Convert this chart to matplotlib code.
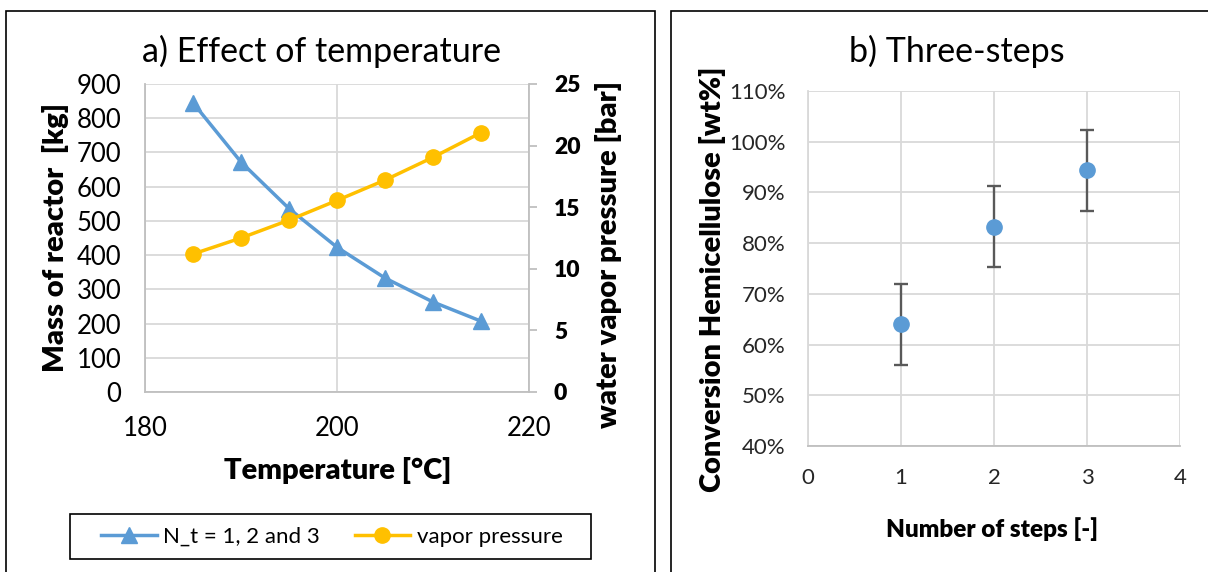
import matplotlib.pyplot as plt
from matplotlib.patches import Rectangle
from matplotlib.ticker import PercentFormatter

# panel a data
temp = [185, 190, 195, 200, 205, 210, 215]
mass = [845, 672, 536, 423, 333, 263, 207]
vapor = [11.2, 12.5, 13.95, 15.55, 17.2, 19.05, 21.05]

# panel b data
steps = [1, 2, 3]
conversion = [64.0, 83.2, 94.4]
conv_err = [8.0, 8.0, 8.0]

blue = '#5B9BD5'
orange = '#FFC000'
grid_c = '#D9D9D9'
axis_c = '#BFBFBF'

plt.rcParams['font.family'] = ['Lato', 'DejaVu Sans']

W, H = 1208, 572
fig = plt.figure(figsize=(W / 100, H / 100), dpi=100)


def fx(px):
    return px / W


def fy(py):
    return 1 - py / H


# panel frames
fig.patches.append(Rectangle((fx(6), -0.1), fx(655 - 6), 1.1 - 11 / H,
                             transform=fig.transFigure, fill=False, ec='black', lw=1.2))
fig.patches.append(Rectangle((fx(671), -0.1), 0.5, 1.1 - 11 / H,
                             transform=fig.transFigure, fill=False, ec='black', lw=1.2))
# legend frame (Excel pads the legend box a lot)
fig.patches.append(Rectangle((fx(70), fy(559)), fx(591 - 70), (559 - 514) / H,
                             transform=fig.transFigure, fill=False, ec='black', lw=1.2))

# ---- a) Effect of temperature
ax = fig.add_axes([fx(145), fy(392), fx(529 - 145), (392 - 84) / H])
ax2 = ax.twinx()

ax.plot(temp, mass, color=blue, marker='^', ms=11.5, lw=2.5, label='N_t = 1, 2 and 3', zorder=3)
ax2.plot(temp, vapor, color=orange, marker='o', ms=11, lw=2.5, label='vapor pressure', zorder=3)

ax.set_xlim(180, 220)
ax.set_ylim(0, 900)
ax2.set_ylim(0, 25)
ax.set_xticks([180, 200, 220])
ax.set_yticks(range(0, 901, 100))
ax2.set_yticks(range(0, 26, 5))
ax.grid(True, color=grid_c, lw=1.3)
ax.set_axisbelow(True)
for a in (ax, ax2):
    for s in a.spines.values():
        s.set_visible(False)
for side in ('left', 'bottom'):
    ax.spines[side].set_visible(True)
    ax.spines[side].set_color(axis_c)
    ax.spines[side].set_linewidth(1.3)
ax2.spines['right'].set_visible(True)
ax2.spines['right'].set_color(axis_c)
ax2.spines['right'].set_linewidth(1.3)

ax.tick_params(axis='both', length=0, labelsize=18.5, colors='black')
ax.tick_params(axis='y', pad=17)
ax.tick_params(axis='x', pad=17)
ax2.tick_params(axis='y', length=6, color=axis_c, width=1.3, labelsize=16.5, pad=12)
for lbl in ax2.get_yticklabels():
    lbl.set_fontweight('heavy')

fig.text(fx(321), fy(51), 'a) Effect of temperature', fontsize=24.5, ha='center', va='center')
fig.text(fx(338), fy(470), 'Temperature [°C]', fontsize=21, fontweight='heavy',
         ha='center', va='center')
fig.text(fx(56), fy(238), 'Mass of reactor  [kg]', fontsize=21, fontweight='heavy',
         ha='center', va='center', rotation=90)
fig.text(fx(609), fy(254), 'water vapor pressure [bar]', fontsize=21, fontweight='heavy',
         ha='center', va='center', rotation=90)

h1, l1 = ax.get_legend_handles_labels()
h2, l2 = ax2.get_legend_handles_labels()
leg = fig.legend(h1 + h2, l1 + l2, loc='center', ncol=2,
                 bbox_to_anchor=(fx(332), fy(537)), fontsize=16,
                 frameon=False, handlelength=2.5, handletextpad=0.3,
                 columnspacing=1.55, borderpad=0, borderaxespad=0)

# ---- b) Three-steps
bx = fig.add_axes([fx(808), fy(446), fx(1180 - 808), (446 - 91) / H])
bx.errorbar(steps, conversion, yerr=conv_err, fmt='o', color=blue, ms=11,
            ecolor='#595959', elinewidth=1.7, capsize=5, capthick=1.7, zorder=3)
bx.set_xlim(0, 4)
bx.set_ylim(40, 110)
bx.set_xticks(range(0, 5))
bx.set_yticks(range(40, 111, 10))
bx.yaxis.set_major_formatter(PercentFormatter(decimals=0))
bx.grid(True, color=grid_c, lw=1.3)
bx.set_axisbelow(True)
for s in bx.spines.values():
    s.set_visible(False)
bx.spines['bottom'].set_visible(True)
bx.spines['bottom'].set_color(axis_c)
bx.spines['bottom'].set_linewidth(1.3)
bx.spines['left'].set_visible(True)
bx.spines['left'].set_color(grid_c)
bx.spines['left'].set_linewidth(1.3)
bx.tick_params(axis='both', length=0, labelsize=16, colors='#262626')
bx.tick_params(axis='y', pad=16)
bx.tick_params(axis='x', pad=16)

fig.text(fx(957), fy(51), 'b) Three-steps', fontsize=24.5, ha='center', va='center')
fig.text(fx(992), fy(529), 'Number of steps [-]', fontsize=17.5, fontweight='heavy',
         ha='center', va='center')
fig.text(fx(713), fy(279), 'Conversion Hemicellulose [wt%]', fontsize=21, fontweight='heavy',
         ha='center', va='center', rotation=90)

fig.savefig('out.png', dpi=100)
